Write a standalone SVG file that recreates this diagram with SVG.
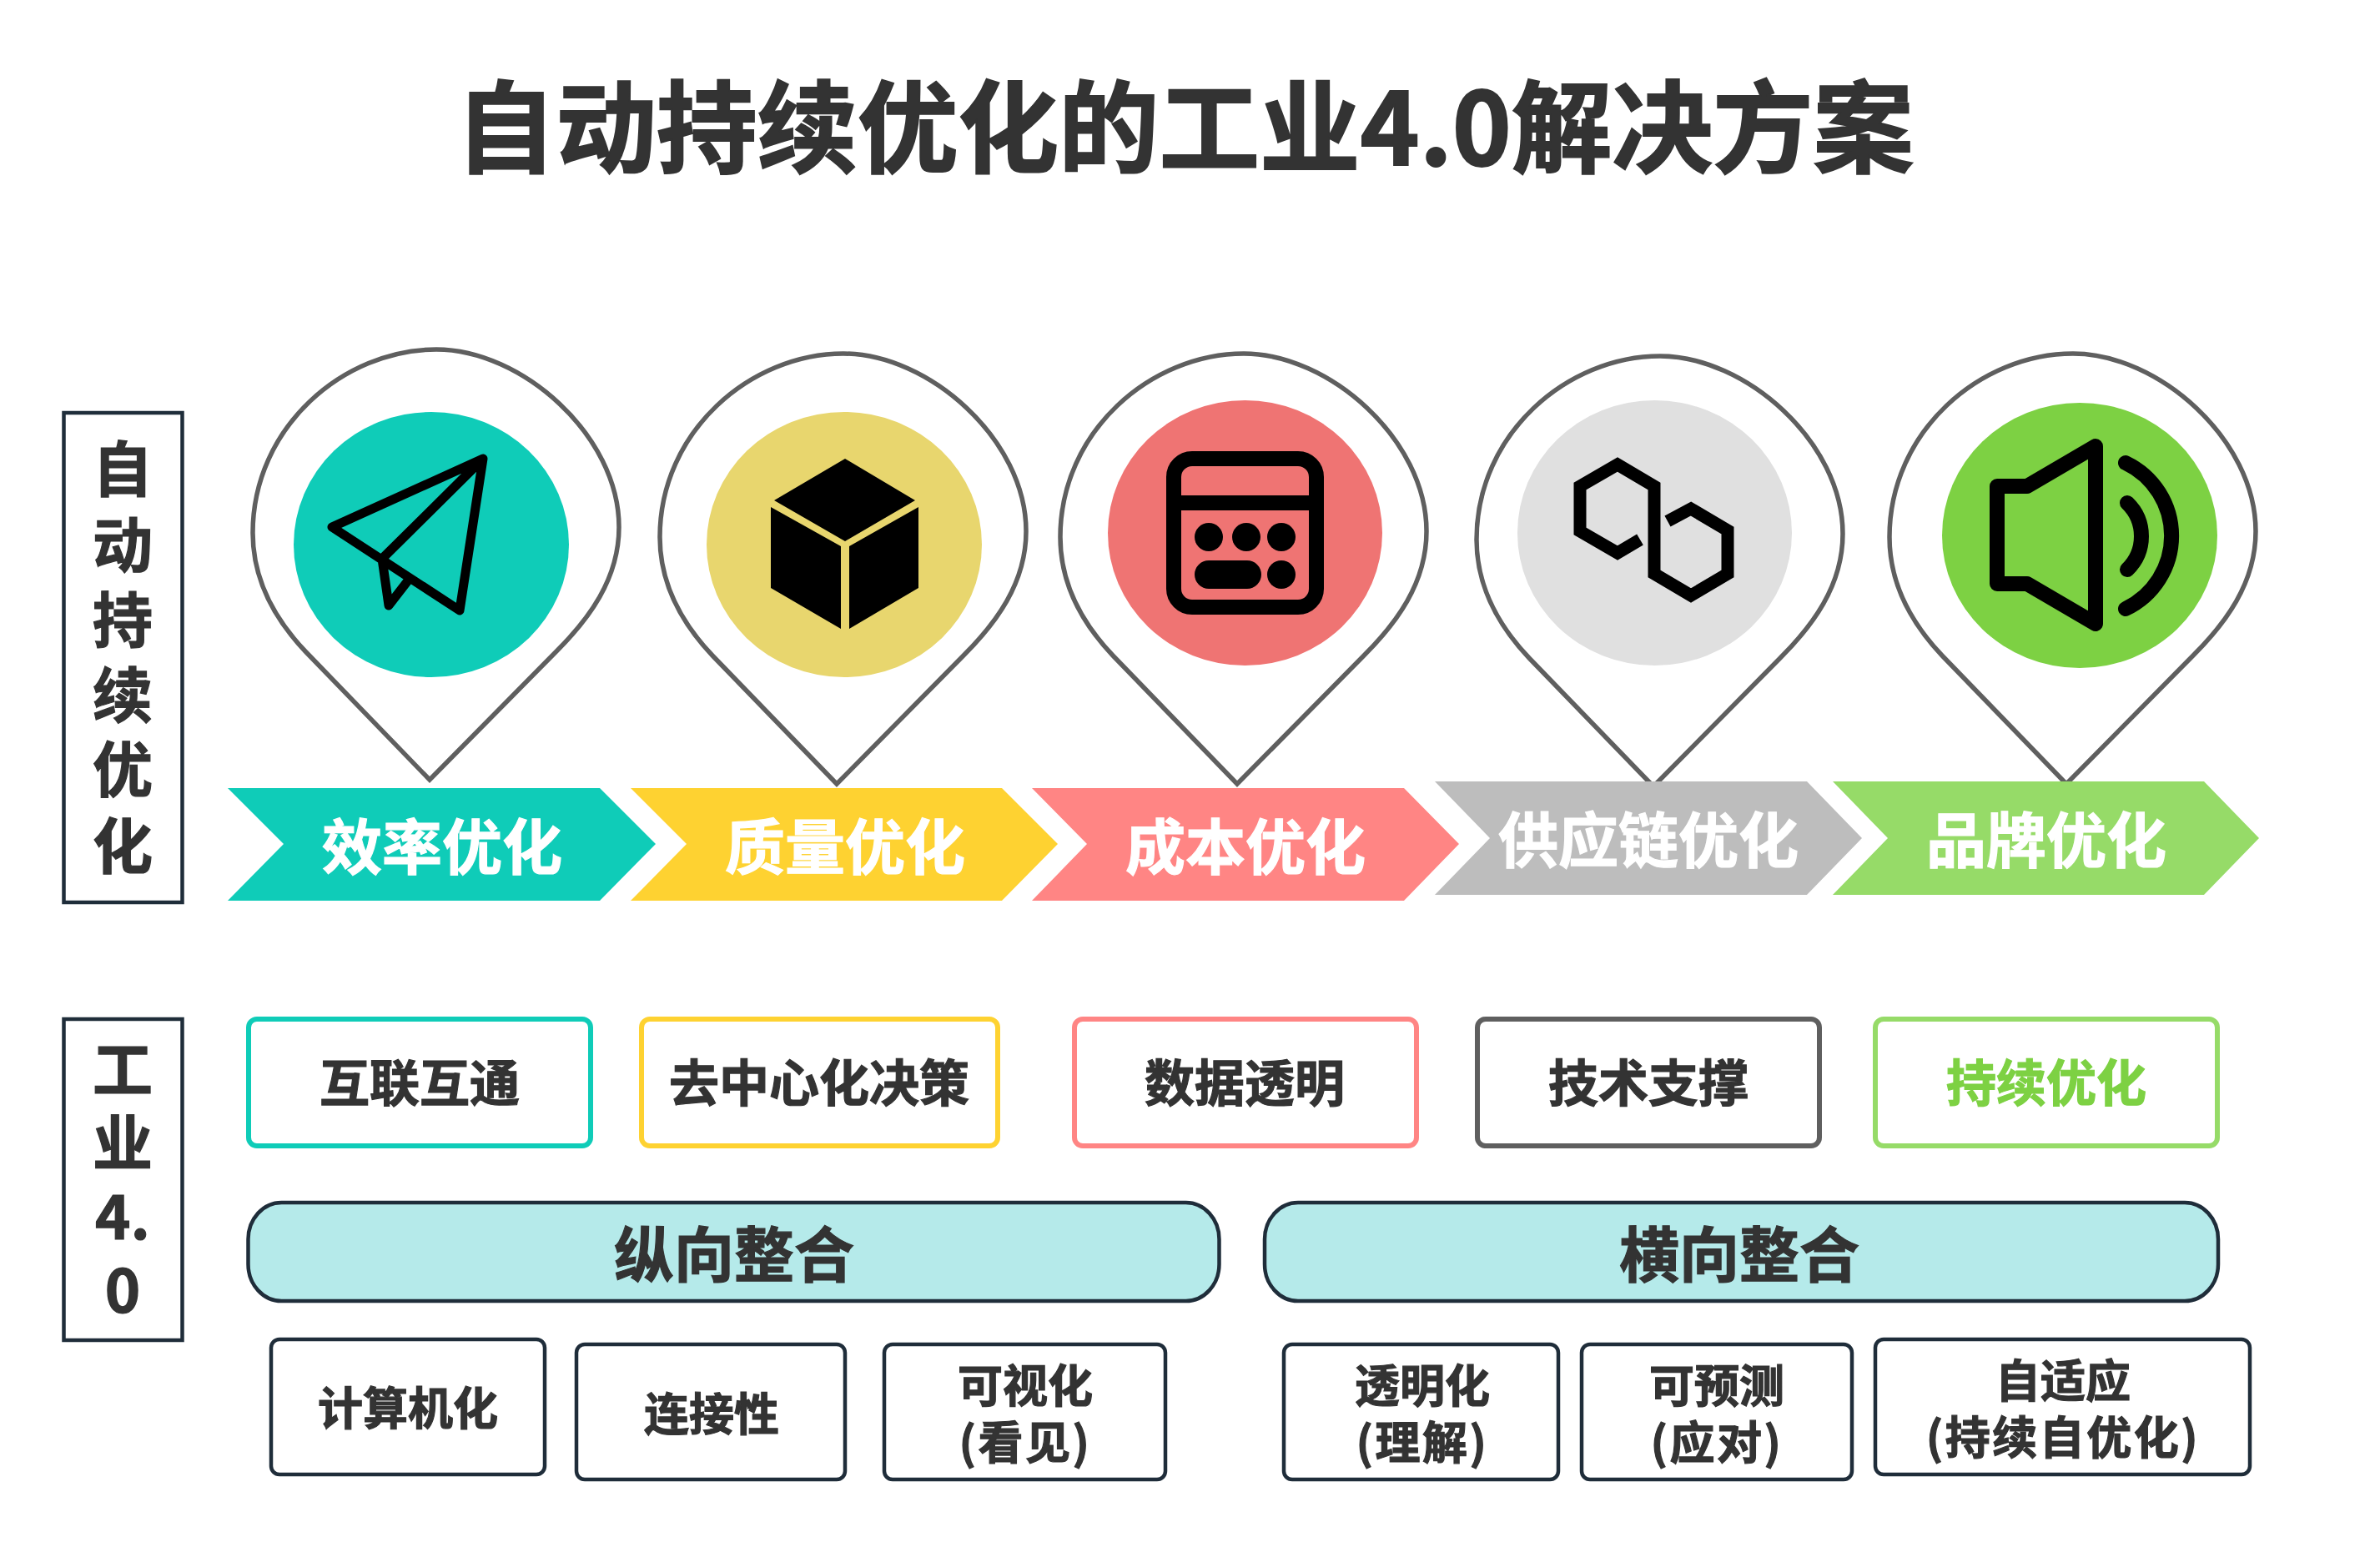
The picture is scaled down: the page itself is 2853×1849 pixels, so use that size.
<svg xmlns="http://www.w3.org/2000/svg" width="2853" height="1849" viewBox="0 0 2853 1849">
<style>
text{font-family:"Noto Sans CJK SC","Noto Sans",sans-serif;font-weight:700;fill:#333;stroke:#333;stroke-width:1.2;text-anchor:middle}
.t{font-size:120.500px;stroke-width:2}.v{font-size:72px}.c{font-size:72px;fill:#fff;stroke:#fff}.m{font-size:60px}.p{font-size:72px}.b{font-size:54px}
.par{letter-spacing:2.500px}
.pin{fill:#fff;stroke:#5f5f5f;stroke-width:5.500;stroke-linejoin:miter}
.ln{fill:none;stroke:#000;stroke-linejoin:round;stroke-linecap:round}
.top{fill:#fff;stroke-width:6}
.dk{stroke:#1f2d3a;stroke-width:4.500}
.bot{fill:#fff}.pl{fill:#b5eaea}
</style>
<defs>
<path id="pinShape" d="M515,935 L667,781 C705,743 742,695 742,632 C742,522 625,419 523,419 C412,419 303,512 303,639 C303,695 330,743 366,781 Z"/>
</defs>
<rect width="2853" height="1849" fill="#fff"/>
<text id="title" class="t" x="1420" y="198">自动持续优化的工业4.0解决方案</text>
<g id="label-left-1">
<rect x="76.500" y="495" width="142" height="587" fill="#fff" class="dk"/>
<text class="v" x="147"><tspan x="147" y="589">自</tspan><tspan x="147" y="680">动</tspan><tspan x="147" y="770">持</tspan><tspan x="147" y="860">续</tspan><tspan x="147" y="949">优</tspan><tspan x="147" y="1041">化</tspan></text>
</g>
<g id="label-left-2">
<rect x="76.500" y="1222" width="142" height="385" fill="#fff" class="dk"/>
<text class="v" x="147"><tspan x="147" y="1309">工</tspan><tspan x="147" y="1397">业</tspan><tspan x="147" y="1486">4.</tspan><tspan x="147" y="1574">0</tspan></text>
</g>
<g id="node-efficiency">
<use href="#pinShape" class="pin"/>
<ellipse cx="517" cy="653" rx="165" ry="159" fill="#0fccb8"/>
<path class="ln" stroke-width="11" d="M579,550 L398,632 L551,732 Z M579,550 L458,670 L466,726 L490,695"/>
<polygon points="273,945 719,945 786,1012 719,1080 273,1080 340,1012" fill="#0fccb8"/>
<text class="c" x="530" y="1042">效率优化</text>
</g>
<g id="node-quality">
<use href="#pinShape" class="pin" transform="translate(488,5)"/>
<ellipse cx="1012" cy="653" rx="165" ry="159" fill="#e8d66e"/>
<path fill="#000" d="M1013,550 L1097,600 L1013,649 L928,600 Z M924,608 L1008,655 V754 L924,705 Z M1018,655 L1101,608 V705 L1018,754 Z"/>
<polygon points="756,945 1201,945 1268,1012 1201,1080 756,1080 823,1012" fill="#fed231"/>
<text class="c" x="1013" y="1042">质量优化</text>
</g>
<g id="node-cost">
<use href="#pinShape" class="pin" transform="translate(968,5)"/>
<ellipse cx="1492.500" cy="639" rx="164.500" ry="159" fill="#ef7473"/>
<rect x="1407" y="550" width="171" height="178" rx="22" fill="none" stroke="#000" stroke-width="18"/>
<path d="M1407,603 H1578" stroke="#000" stroke-width="18"/>
<circle cx="1449" cy="644" r="17"/><circle cx="1494" cy="644" r="17"/><circle cx="1536" cy="644" r="17"/>
<rect x="1432" y="672" width="80" height="34" rx="17"/><circle cx="1536" cy="689" r="17"/>
<polygon points="1237,945 1683,945 1749,1012 1683,1080 1237,1080 1303,1012" fill="#ff8584"/>
<text class="c" x="1493" y="1042">成本优化</text>
</g>
<g id="node-supply">
<use href="#pinShape" class="pin" transform="translate(1467,8)"/>
<ellipse cx="1983.500" cy="639" rx="164.500" ry="159" fill="#e0e0e0"/>
<path fill="none" stroke="#000" stroke-width="15" stroke-linejoin="miter" d="M1966,647 L1939,663 L1894,637 V583 L1939,557 L1983,583 V688 L2027,714 L2071,688 V636 L2027,610 L1999,625"/>
<polygon points="1720,937 2166,937 2232,1005 2166,1073 1720,1073 1786,1005" fill="#bdbdbd"/>
<text class="c" x="1976" y="1034">供应链优化</text>
</g>
<g id="node-brand">
<use href="#pinShape" class="pin" transform="translate(1962,5)"/>
<ellipse cx="2493" cy="642" rx="165" ry="159" fill="#7dd143"/>
<path class="ln" stroke-width="18" d="M2512,535 L2430,583 H2394 V700 H2430 L2512,748 Z M2550,603 A55.600,55.600 0 0 1 2550,683 M2548,555 A97,97 0 0 1 2548,730"/>
<polygon points="2197,937 2642,937 2708,1005 2642,1073 2197,1073 2263,1005" fill="#96db68"/>
<text class="c" x="2453" y="1034">品牌优化</text>
</g>
<g id="box-interconnect"><rect class="top" x="298" y="1222" width="410" height="152" rx="10" stroke="#0fccb8"/><text class="m" x="503" y="1321">互联互通</text></g>
<g id="box-decentral"><rect class="top" x="769" y="1222" width="427" height="152" rx="10" stroke="#fed231"/><text class="m" x="982" y="1321">去中心化决策</text></g>
<g id="box-data"><rect class="top" x="1288" y="1222" width="410" height="152" rx="10" stroke="#ff8584"/><text class="m" x="1492" y="1321">数据透明</text></g>
<g id="box-tech"><rect class="top" x="1771" y="1222" width="410" height="152" rx="10" stroke="#5f5f5f"/><text class="m" x="1976" y="1321">技术支撑</text></g>
<g id="box-continuous"><rect class="top" x="2248" y="1222" width="410" height="152" rx="10" stroke="#96db68"/><text class="m" x="2453" y="1321" style="fill:#7dd143;stroke:#7dd143">持续优化</text></g>
<g id="pill-vertical"><rect class="pl dk" x="297.500" y="1442" width="1164" height="118" rx="40" ry="44"/><text class="p" x="880" y="1531">纵向整合</text></g>
<g id="pill-horizontal"><rect class="pl dk" x="1516" y="1442" width="1143" height="118" rx="40" ry="44"/><text class="p" x="2085" y="1531">横向整合</text></g>
<g id="box-computer"><rect class="bot dk" x="325" y="1606" width="328" height="162" rx="10"/><text class="b" x="489" y="1709">计算机化</text></g>
<g id="box-connect"><rect class="bot dk" x="691" y="1612" width="322" height="162" rx="10"/><text class="b" x="853" y="1716">连接性</text></g>
<g id="box-visual"><rect class="bot dk" x="1060" y="1612" width="337" height="162" rx="10"/><text class="b" x="1229"><tspan x="1229" y="1682">可视化</tspan><tspan class="par" x="1229" y="1750">(看见)</tspan></text></g>
<g id="box-transparent"><rect class="bot dk" x="1539" y="1612" width="329" height="162" rx="10"/><text class="b" x="1705"><tspan x="1705" y="1682">透明化</tspan><tspan class="par" x="1705" y="1750">(理解)</tspan></text></g>
<g id="box-predict"><rect class="bot dk" x="1896" y="1612" width="324" height="162" rx="10"/><text class="b" x="2058"><tspan x="2058" y="1682">可预测</tspan><tspan class="par" x="2058" y="1750">(应对)</tspan></text></g>
<g id="box-adaptive"><rect class="bot dk" x="2248" y="1606" width="449" height="162" rx="10"/><text class="b" x="2473"><tspan x="2473" y="1676">自适应</tspan><tspan class="par" x="2473" y="1744">(持续自优化)</tspan></text></g>
</svg>
